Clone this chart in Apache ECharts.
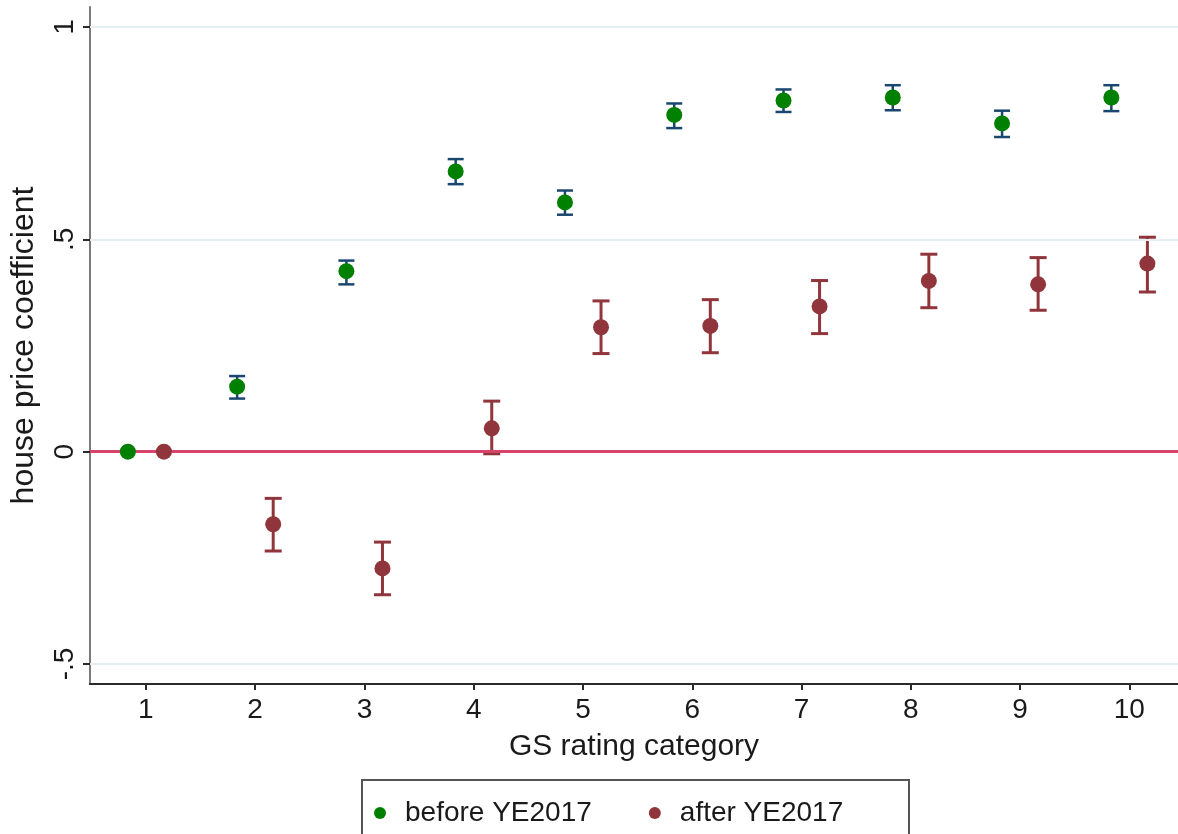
<!DOCTYPE html>
<html>
<head>
<meta charset="utf-8">
<script src="https://cdn.jsdelivr.net/npm/echarts@6/dist/echarts.min.js"></script>
<style>
  html, body { margin: 0; padding: 0; background: #fff; }
  #chart { width: 1178px; height: 834px; }
</style>
</head>
<body>
<div id="chart"></div>
<script>
// GS rating categories (x axis)
const categories = [1, 2, 3, 4, 5, 6, 7, 8, 9, 10];

// Coefficients and 95% confidence bounds, before YE2017
const beforeCoef = [0, 0.153, 0.425, 0.660, 0.587, 0.793, 0.827, 0.834, 0.773, 0.834];
const beforeLo   = [null, 0.125, 0.394, 0.630, 0.558, 0.762, 0.800, 0.804, 0.741, 0.802];
const beforeHi   = [null, 0.178, 0.450, 0.689, 0.615, 0.820, 0.853, 0.863, 0.803, 0.863];

// Coefficients and 95% confidence bounds, after YE2017
const afterCoef = [0, -0.171, -0.275, 0.055, 0.293, 0.296, 0.342, 0.402, 0.394, 0.443];
const afterLo   = [null, -0.234, -0.337, -0.005, 0.231, 0.233, 0.278, 0.339, 0.333, 0.376];
const afterHi   = [null, -0.110, -0.213, 0.119, 0.355, 0.358, 0.403, 0.465, 0.457, 0.505];

// Axis ticks
const xTickValues = [1, 2, 3, 4, 5, 6, 7, 8, 9, 10];
const xTickLabels = ['1', '2', '3', '4', '5', '6', '7', '8', '9', '10'];
const yTickValues = [-0.5, 0, 0.5, 1];
const yTickLabels = ['-.5', '0', '.5', '1'];

// Horizontal dodge of the two groups around each category
const DODGE = 0.165;

const GREEN = '#008000';
const MAROON = '#90353b';
const NAVY = '#1a476f';
const FONT = '"Liberation Sans", Arial, sans-serif';
const TEXT = '#1a1a1a';

function points(coef, offset) {
  return categories.map((c, i) => [c + offset, coef[i]]);
}
function intervals(lo, hi, offset) {
  const out = [];
  categories.forEach((c, i) => {
    if (lo[i] != null && hi[i] != null) out.push([c + offset, lo[i], hi[i]]);
  });
  return out;
}
function errorBar(color, lineWidth, capWidth) {
  return function (params, api) {
    const x = api.value(0);
    const p1 = api.coord([x, api.value(2)]);
    const p2 = api.coord([x, api.value(1)]);
    const hw = capWidth / 2;
    const style = { stroke: color, lineWidth: lineWidth };
    return {
      type: 'group',
      children: [
        { type: 'line', shape: { x1: p1[0], y1: p1[1], x2: p2[0], y2: p2[1] }, style: style },
        { type: 'line', shape: { x1: p1[0] - hw, y1: p1[1], x2: p1[0] + hw, y2: p1[1] }, style: style },
        { type: 'line', shape: { x1: p2[0] - hw, y1: p2[1], x2: p2[0] + hw, y2: p2[1] }, style: style }
      ]
    };
  };
}

const chart = echarts.init(document.getElementById('chart'), null, { renderer: 'canvas' });

chart.setOption({
  backgroundColor: '#ffffff',
  animation: false,
  textStyle: { fontFamily: FONT },
  grid: { left: 88, right: 0, top: 7, bottom: 150, containLabel: false },
  xAxis: {
    type: 'value',
    min: 0.4886,
    max: 10.445,
    axisLine: { show: true, onZero: false, lineStyle: { color: '#2a2a2a', width: 2 } },
    axisTick: { show: true, length: 6, customValues: xTickValues, lineStyle: { color: '#2a2a2a', width: 2 } },
    axisLabel: {
      customValues: xTickValues,
      formatter: v => xTickLabels[xTickValues.indexOf(v)],
      fontSize: 28, color: TEXT, fontFamily: FONT, margin: 12
    },
    splitLine: { show: false },
    name: 'GS rating category',
    nameLocation: 'middle',
    nameGap: 48,
    nameTextStyle: { fontSize: 30, color: TEXT, fontFamily: FONT }
  },
  yAxis: {
    type: 'value',
    min: -0.5472,
    max: 1.0472,
    axisLine: { show: true, onZero: false, lineStyle: { color: '#7a7a7a', width: 2 } },
    axisTick: { show: true, length: 7, customValues: yTickValues, lineStyle: { color: '#2a2a2a', width: 2 } },
    axisLabel: {
      customValues: yTickValues,
      formatter: v => yTickLabels[yTickValues.indexOf(v)],
      rotate: 90,
      fontSize: 28, color: TEXT, fontFamily: FONT, margin: 11
    },
    splitLine: { show: false },
    name: 'house price coefficient',
    nameLocation: 'middle',
    nameRotate: 90,
    nameGap: 50,
    nameTextStyle: { fontSize: 32, color: TEXT, fontFamily: FONT }
  },
  legend: {
    data: ['before YE2017', 'after YE2017'],
    left: 369,
    top: 794,
    orient: 'horizontal',
    icon: 'circle',
    itemWidth: 12,
    itemHeight: 12,
    itemGap: 57,
    textStyle: { fontSize: 28, color: TEXT, fontFamily: FONT, padding: [0, 0, 0, 14] }
  },
  graphic: [
    {
      type: 'rect',
      silent: true,
      shape: { x: 362, y: 780, width: 547, height: 80 },
      style: { fill: 'none', stroke: '#555555', lineWidth: 2 }
    }
  ],
  series: [
    {
      // reference lines: light gridlines and the zero line
      type: 'line',
      data: [],
      silent: true,
      z: 1,
      markLine: {
        silent: true,
        symbol: ['none', 'none'],
        label: { show: false },
        data: [
          { yAxis: 1, lineStyle: { color: '#e6eff1', width: 2, type: 'solid' } },
          { yAxis: 0.5, lineStyle: { color: '#e6eff1', width: 2, type: 'solid' } },
          { yAxis: -0.5, lineStyle: { color: '#e6eff1', width: 2, type: 'solid' } },
          { yAxis: 0, lineStyle: { color: '#d8436c', width: 3, type: 'solid' } }
        ]
      }
    },
    {
      type: 'custom',
      name: 'before CI',
      renderItem: errorBar(NAVY, 2.5, 16),
      data: intervals(beforeLo, beforeHi, -DODGE),
      encode: { x: 0, y: [1, 2] },
      silent: true,
      z: 3
    },
    {
      type: 'custom',
      name: 'after CI',
      renderItem: errorBar(MAROON, 3, 17),
      data: intervals(afterLo, afterHi, DODGE),
      encode: { x: 0, y: [1, 2] },
      silent: true,
      z: 3
    },
    {
      type: 'scatter',
      name: 'before YE2017',
      data: points(beforeCoef, -DODGE),
      symbol: 'circle',
      symbolSize: 16,
      itemStyle: { color: GREEN, opacity: 1 },
      z: 5
    },
    {
      type: 'scatter',
      name: 'after YE2017',
      data: points(afterCoef, DODGE),
      symbol: 'circle',
      symbolSize: 16,
      itemStyle: { color: MAROON, opacity: 1 },
      z: 5
    }
  ]
});
</script>
</body>
</html>
